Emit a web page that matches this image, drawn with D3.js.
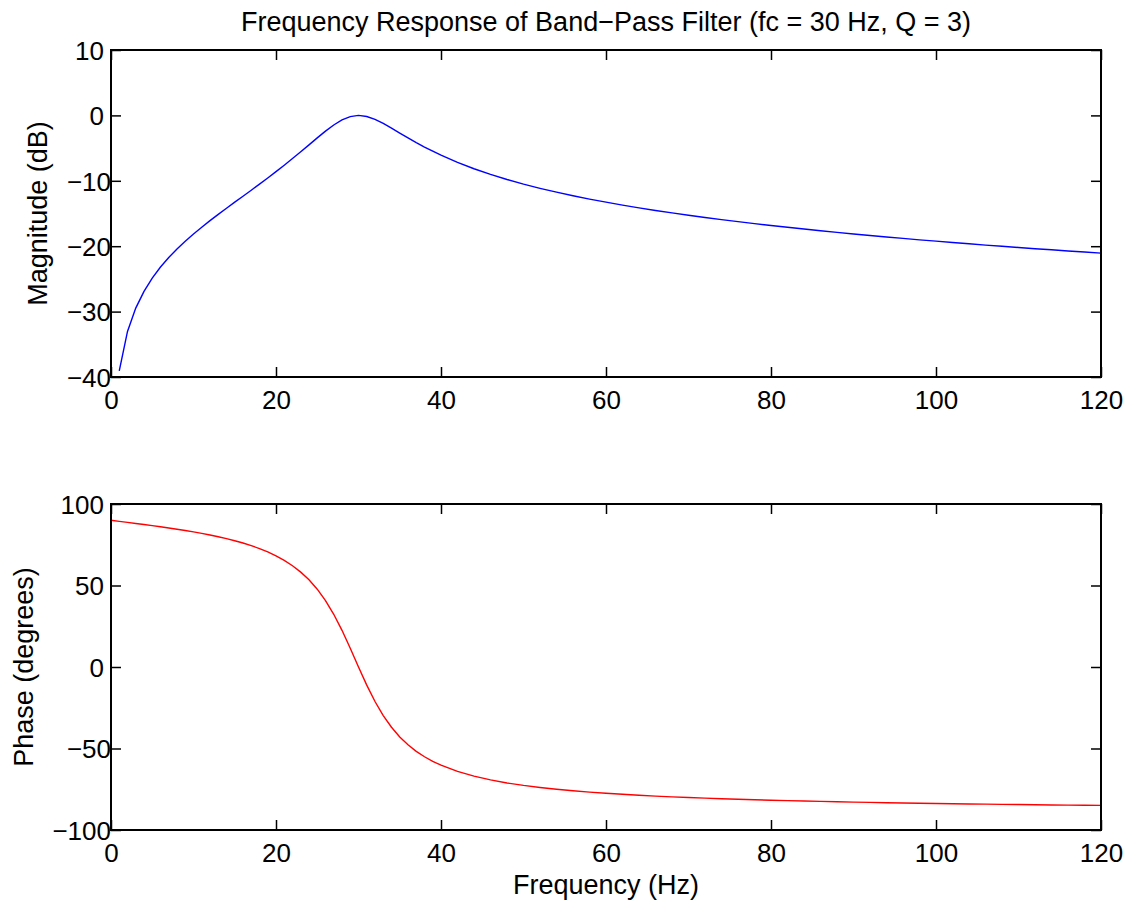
<!DOCTYPE html>
<html>
<head>
<meta charset="utf-8">
<script src="https://cdn.jsdelivr.net/npm/d3@7"></script>
<style>
  body { margin: 0; background: #fff; }
  svg { display: block; font-family: "Liberation Sans", Arial, Helvetica, sans-serif; }
  .tick text { font-size: 26px; fill: #000; }
</style>
</head>
<body>
<div class="chartContainer"></div>
<script>
// magnitude response (dB), frequencies in Hz
var magFreq = [1,2,3,4,5,6,7,8,9,10,11,12,13,14,15,16,17,18,19,20,21,22,23,24,25,26,27,28,29,30,
    31,32,33,34,35,36,37,38,39,40,42,44,46,48,50,52,54,56,58,60,62,64,66,68,70,72,74,76,78,80,
    82,84,86,88,90,92,94,96,98,100,102,104,106,108,110,112,114,116,118,120];
var magDb = [-39.07,-33.03,-29.46,-26.90,-24.88,-23.19,-21.73,-20.42,-19.23,-18.13,-17.09,-16.09,-15.13,-14.20,-13.27,
    -12.36,-11.44,-10.51,-9.57,-8.60,-7.62,-6.60,-5.57,-4.51,-3.44,-2.41,-1.47,-0.69,-0.18,0.00,
    -0.17,-0.61,-1.23,-1.95,-2.70,-3.44,-4.16,-4.84,-5.48,-6.09,-7.19,-8.16,-9.02,-9.80,-10.51,
    -11.15,-11.74,-12.29,-12.80,-13.27,-13.72,-14.14,-14.54,-14.91,-15.27,-15.61,-15.94,-16.25,-16.55,-16.84,
    -17.11,-17.38,-17.64,-17.89,-18.13,-18.36,-18.59,-18.81,-19.03,-19.23,-19.44,-19.63,-19.83,-20.01,-20.20,
    -20.38,-20.55,-20.73,-20.89,-21.06];

// phase response (degrees)
var phaseFreq = [0,1,2,3,4,5,6,7,8,9,10,11,12,13,14,15,16,17,18,19,20,21,22,23,24,25,26,27,28,29,30,
    31,32,33,34,35,36,37,38,39,40,42,44,46,48,50,52,54,56,58,60,62,64,66,68,70,72,74,76,78,80,
    82,84,86,88,90,92,94,96,98,100,102,104,106,108,110,112,114,116,118,120];
var phaseDeg = [90.00,89.36,88.72,88.07,87.41,86.73,86.03,85.30,84.53,83.73,82.87,81.96,80.98,79.92,78.75,77.47,
    76.05,74.45,72.65,70.58,68.20,65.41,62.13,58.20,53.47,47.73,40.75,32.35,22.50,11.50,0.00,
    -11.13,-21.18,-29.80,-36.98,-42.88,-47.73,-51.73,-55.07,-57.87,-60.26,-64.07,-66.99,-69.28,-71.13,-72.65,
    -73.92,-75.00,-75.94,-76.75,-77.47,-78.11,-78.68,-79.19,-79.65,-80.07,-80.46,-80.81,-81.14,-81.44,-81.72,
    -81.99,-82.23,-82.46,-82.67,-82.87,-83.06,-83.24,-83.41,-83.58,-83.73,-83.87,-84.01,-84.14,-84.27,-84.39,
    -84.51,-84.62,-84.72,-84.82,-84.92];

// axis ticks
var xTicks = [0, 20, 40, 60, 80, 100, 120];
var magTicks = [-40, -30, -20, -10, 0, 10];
var phaseTicks = [-100, -50, 0, 50, 100];

var titleText = "Frequency Response of Band\u2212Pass Filter (fc = 30 Hz, Q = 3)";

window.onload = drawChart();

function fmt(v){
    // matlab style minus sign
    return v < 0 ? "\u2212" + Math.abs(v) : String(v);
}

function drawChart(){
    var width = 1130,
        height = 901;

    var svg = d3.select("div.chartContainer")
        .append("svg")
        .attr("width", width)
        .attr("height", height);

    var left = 111, right = 1101;

    // top panel - magnitude
    drawPanel(svg, {
        top: 50, bottom: 377, left: left, right: right,
        xs: magFreq, ys: magDb, yDomain: [-40, 10], yTicks: magTicks,
        color: "#0000ff", ylabel: "Magnitude (dB)", ylabelX: 47
    });

    // bottom panel - phase
    drawPanel(svg, {
        top: 504, bottom: 830, left: left, right: right,
        xs: phaseFreq, ys: phaseDeg, yDomain: [-100, 100], yTicks: phaseTicks,
        color: "#ff0000", ylabel: "Phase (degrees)", ylabelX: 33
    });

    svg.append("text")
        .attr("x", (left + right) / 2)
        .attr("y", 31)
        .attr("text-anchor", "middle")
        .style("font-size", "27px")
        .text(titleText);

    svg.append("text")
        .attr("x", (left + right) / 2)
        .attr("y", 894)
        .attr("text-anchor", "middle")
        .style("font-size", "27px")
        .text("Frequency (Hz)");
};

function drawPanel(svg, p){
    var x = d3.scaleLinear().domain([0, 120]).range([p.left, p.right]);
    var y = d3.scaleLinear().domain(p.yDomain).range([p.bottom, p.top]);
    var tickLen = 10;

    var line = d3.line()
        .x(function(d){ return x(d[0]); })
        .y(function(d){ return y(d[1]); });

    var pts = p.xs.map(function(f, i){ return [f, p.ys[i]]; });

    svg.append("path")
        .datum(pts)
        .attr("d", line)
        .attr("fill", "none")
        .attr("stroke", p.color)
        .attr("stroke-width", 1.4);

    // bottom axis with labels, inward ticks
    var gx = svg.append("g")
        .attr("transform", "translate(0," + p.bottom + ")")
        .call(d3.axisBottom(x).tickValues(xTicks).tickSize(-tickLen).tickPadding(14).tickFormat(fmt));
    // top axis, ticks only
    var gxt = svg.append("g")
        .attr("transform", "translate(0," + p.top + ")")
        .call(d3.axisTop(x).tickValues(xTicks).tickSize(-tickLen).tickFormat(""));
    // left axis with labels
    var gy = svg.append("g")
        .attr("transform", "translate(" + p.left + ",0)")
        .call(d3.axisLeft(y).tickValues(p.yTicks).tickSize(-tickLen).tickFormat(fmt));
    // right axis, ticks only
    var gyr = svg.append("g")
        .attr("transform", "translate(" + p.right + ",0)")
        .call(d3.axisRight(y).tickValues(p.yTicks).tickSize(-tickLen).tickFormat(""));

    [gx, gxt, gy, gyr].forEach(function(g){
        g.select(".domain").remove();
        g.selectAll(".tick line").attr("stroke", "#000").attr("stroke-width", 1.5);
    });
    // negative labels sit closer to the axis, like the original
    gy.selectAll(".tick text")
        .attr("dy", "0.36em")
        .attr("x", function(d){ return d < 0 ? 0 : -7; });

    // box
    svg.append("rect")
        .attr("x", p.left)
        .attr("y", p.top)
        .attr("width", p.right - p.left)
        .attr("height", p.bottom - p.top)
        .attr("fill", "none")
        .attr("stroke", "#000")
        .attr("stroke-width", 2);

    svg.append("text")
        .attr("transform", "translate(" + p.ylabelX + "," + ((p.top + p.bottom) / 2) + ") rotate(-90)")
        .attr("text-anchor", "middle")
        .style("font-size", "27px")
        .text(p.ylabel);
};
</script>
</body>
</html>
